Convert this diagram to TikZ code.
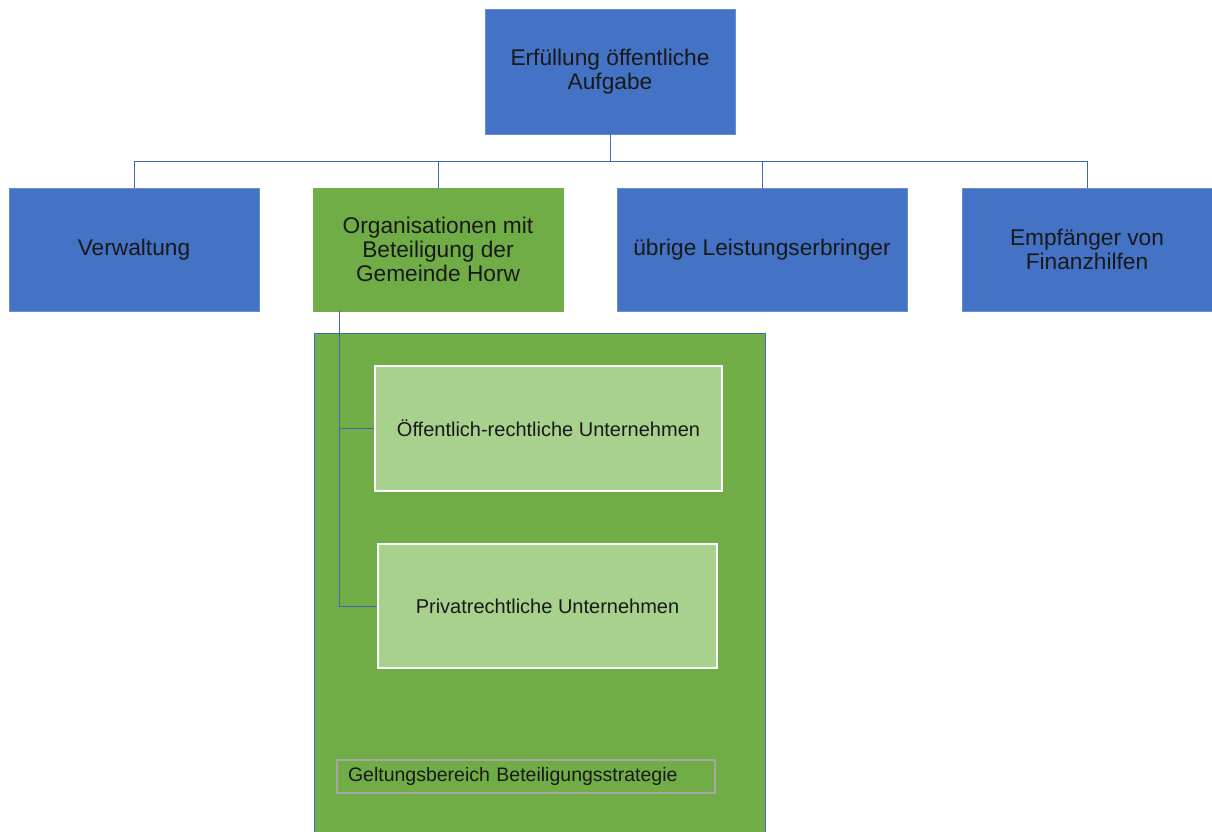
\documentclass[tikz,border=0pt]{standalone}
\usepackage{fontspec}
\setmainfont{Liberation Sans}
\definecolor{obblue}{HTML}{4472C4}
\definecolor{obgreen}{HTML}{70AD47}
\definecolor{oblight}{HTML}{A9D18E}
\definecolor{obline}{HTML}{3F67B5}
\definecolor{obgray}{HTML}{A6A6A6}
\tikzset{
  bluebox/.style={fill=obblue, draw=obblue!80!white, line width=0.8pt, align=center, inner sep=0pt,
    font=\fontsize{22.7}{24}\selectfont, text=black!90},
  greenbox/.style={bluebox, fill=obgreen, draw=obgreen},
  lightbox/.style={fill=oblight, draw=white, line width=1.5pt, align=center, inner sep=0pt,
    font=\fontsize{20}{22}\selectfont, text=black!90},
  container/.style={fill=obgreen, draw=obline, line width=1pt, inner sep=0pt},
  scopebox/.style={draw=obgray, line width=1.2pt, inner xsep=11pt, inner ysep=0pt, align=left,
    font=\fontsize{19.5}{21}\selectfont, text=black!90},
  conn/.style={draw=obline, line width=1pt}
}
\begin{document}
\begin{tikzpicture}[x=1pt, y=-1pt]
\useasboundingbox (0,0) rectangle (1212,832);
\begin{scope}
\clip (0,0) rectangle (1212,832);
% container
\node[container, minimum width=451pt, minimum height=520pt] (cont) at (539.5,593) {};
\end{scope}
% top
\node[bluebox, minimum width=250pt, minimum height=125pt] (top) at (610,71.5) {Erfüllung öffentliche\\Aufgabe};
% second level
\node[bluebox, minimum width=250pt, minimum height=123pt] (verw) at (134,249.5) {Verwaltung};
\node[greenbox, minimum width=250pt, minimum height=123pt] (org) at (438,249.5) {Organisationen mit\\Beteiligung der\\Gemeinde Horw};
\node[bluebox, minimum width=290pt, minimum height=123pt] (ueb) at (762,249.5) {übrige Leistungserbringer};
\node[bluebox, minimum width=250pt, minimum height=123pt] (empf) at (1087,249.5) {Empfänger von\\Finanzhilfen};
% inner boxes
\node[lightbox, minimum width=347pt, minimum height=125pt] (oeff) at (548.5,428.5) {Öffentlich-rechtliche Unternehmen};
\node[lightbox, minimum width=339pt, minimum height=124pt] (priv) at (547.5,606) {Privatrechtliche Unternehmen};
\node[scopebox, text width=356pt, minimum height=33pt] (scope) at (526,776.5) {Geltungsbereich Beteiligungsstrategie};
% connectors
\coordinate (bus) at (0,161);
\draw[conn] (top.south) -- (top.south |- bus);
\draw[conn] (verw.north) -- (verw.north |- bus) -- (empf.north |- bus) -- (empf.north);
\draw[conn] (org.north) -- (org.north |- bus);
\draw[conn] (ueb.north) -- (ueb.north |- bus);
\coordinate (trunk) at (339,311);
\draw[conn] (trunk) -- (trunk |- priv.west) -- (priv.west);
\draw[conn] (trunk |- oeff.west) -- (oeff.west);
\end{tikzpicture}
\end{document}
